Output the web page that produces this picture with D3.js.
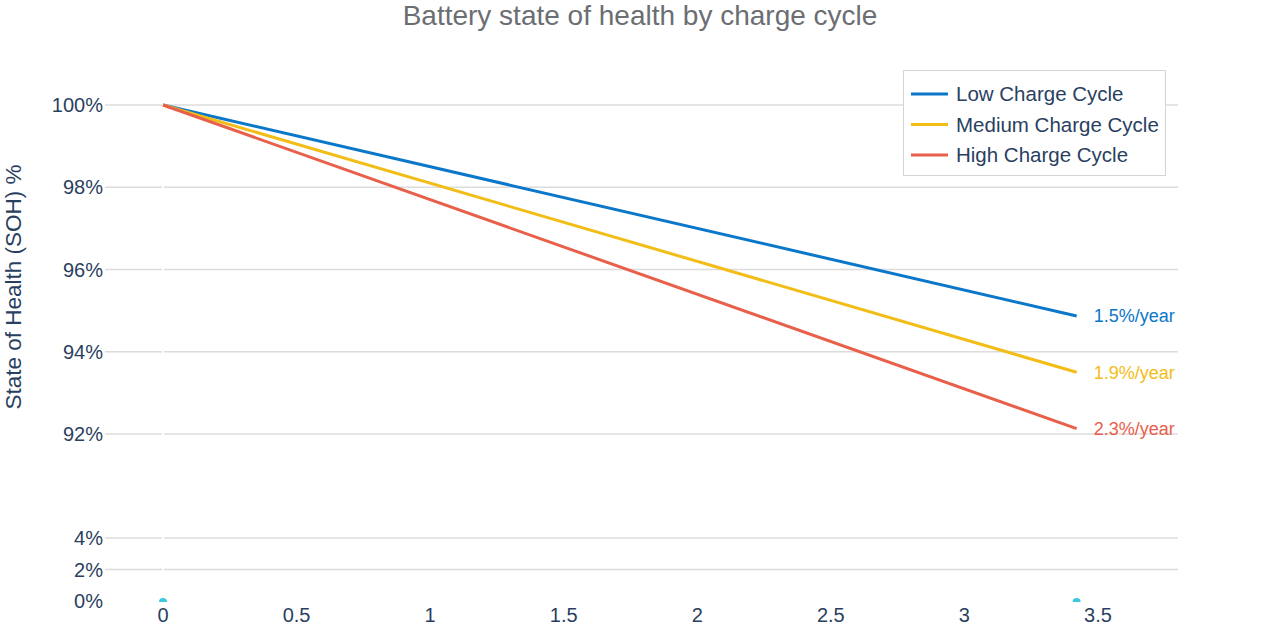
<!DOCTYPE html>
<html lang="en">
<head>
<meta charset="utf-8">
<title>Battery state of health by charge cycle</title>
<script src="https://d3js.org/d3.v7.min.js"></script>
<style>
  body { margin: 0; background: #fff; }
  text { font-family: "Liberation Sans", Arial, Helvetica, sans-serif; }
</style>
</head>
<body>
<svg width="1280" height="640"></svg>
<script>
// data
const years = [0, 3.42];
const lowSoh = [100, 94.87];
const medSoh = [100, 93.50];
const highSoh = [100, 92.13];
const baseline = [0, 0];   // the little cyan trace sitting at 0%
const seriesNames = ["Low Charge Cycle", "Medium Charge Cycle", "High Charge Cycle"];
const seriesColors = ["#0b77c9", "#f2bd16", "#e8604a"];
const rateLabels = ["1.5%/year", "1.9%/year", "2.3%/year"];
const xTicks = [0, 0.5, 1, 1.5, 2, 2.5, 3, 3.5];
const topTicks = [92, 94, 96, 98, 100];
const bottomTicks = [0, 2, 4];

const svg = d3.select("svg");
const left = 105, right = 1178;

const x = d3.scaleLinear().domain([0, 3.5]).range([163, 1098]);
const yTop = d3.scaleLinear().domain([92, 100]).range([434, 105]);
const yBot = d3.scaleLinear().domain([0, 4]).range([601, 538]);

// gridlines
const grid = svg.append("g");
grid.selectAll(".gt").data(topTicks).enter().append("line")
    .attr("x1", left).attr("x2", right)
    .attr("y1", d => yTop(d)).attr("y2", d => yTop(d))
    .style("stroke", "#dcdcdc").style("stroke-width", 1.5);
grid.selectAll(".gb").data(bottomTicks.filter(d => d > 0)).enter().append("line")
    .attr("x1", left).attr("x2", right)
    .attr("y1", d => yBot(d)).attr("y2", d => yBot(d))
    .style("stroke", "#dcdcdc").style("stroke-width", 1.5);
// white zero line across the grid
grid.append("line").attr("x1", x(0)).attr("x2", x(0))
    .attr("y1", 60).attr("y2", 601)
    .style("stroke", "#fff").style("stroke-width", 2);

// y tick labels
svg.append("g").selectAll("text").data(topTicks).enter().append("text")
    .attr("x", 103).attr("y", d => yTop(d)).attr("dy", "0.35em")
    .attr("text-anchor", "end").style("font-size", "20px").style("fill", "#2a3f5f")
    .text(d => d + "%");
svg.append("g").selectAll("text").data(bottomTicks).enter().append("text")
    .attr("x", 103).attr("y", d => yBot(d)).attr("dy", "0.35em")
    .attr("text-anchor", "end").style("font-size", "20px").style("fill", "#2a3f5f")
    .text(d => d + "%");

// x tick labels
svg.append("g").selectAll("text").data(xTicks).enter().append("text")
    .attr("x", d => x(d)).attr("y", 622)
    .attr("text-anchor", "middle").style("font-size", "20px").style("fill", "#2a3f5f")
    .text(d => d);

// cyan baseline markers, clipped at the bottom of the lower panel
svg.append("clipPath").attr("id", "clipBot").append("rect")
    .attr("x", left).attr("y", 520).attr("width", right - left).attr("height", 82);
svg.append("g").attr("clip-path", "url(#clipBot)")
  .selectAll("circle").data(years).enter().append("circle")
    .attr("cx", d => x(d)).attr("cy", (d, i) => yBot(baseline[i]) + 1)
    .attr("r", 4).style("fill", "#3cc8dc");

// lines
const allSeries = [lowSoh, medSoh, highSoh];
const line = d3.line().x((d, i) => x(years[i])).y(d => yTop(d));
svg.append("g").selectAll("path").data(allSeries).enter().append("path")
    .attr("d", d => line(d))
    .style("fill", "none")
    .style("stroke", (d, i) => seriesColors[i])
    .style("stroke-width", 3);

// rate labels at the line ends
svg.append("g").selectAll("text").data(allSeries).enter().append("text")
    .attr("x", x(years[1]) + 17).attr("y", d => yTop(d[d.length - 1]))
    .attr("dy", "0.35em")
    .style("font-size", "18px")
    .style("fill", (d, i) => seriesColors[i])
    .text((d, i) => rateLabels[i]);

// legend
const legend = svg.append("g");
legend.append("rect").attr("x", 903.5).attr("y", 70.5).attr("width", 262).attr("height", 105)
    .style("fill", "#fff").style("stroke", "#d4d4d4").style("stroke-width", 1);
seriesNames.forEach((name, i) => {
  const yy = 94 + i * 30.5;
  legend.append("line").attr("x1", 911).attr("x2", 948).attr("y1", yy).attr("y2", yy)
      .style("stroke", seriesColors[i]).style("stroke-width", 3);
  legend.append("text").attr("x", 956).attr("y", yy).attr("dy", "0.35em")
      .style("font-size", "20.5px").style("fill", "#2a3f5f").text(name);
});

// title
svg.append("text").attr("x", 640).attr("y", 25)
    .attr("text-anchor", "middle").style("font-size", "28px").style("fill", "#6b6e72")
    .text("Battery state of health by charge cycle");

// y axis title
svg.append("text")
    .attr("transform", "translate(21,287) rotate(-90)")
    .attr("text-anchor", "middle").style("font-size", "22.5px").style("fill", "#2a3f5f")
    .text("State of Health (SOH) %");
</script>
</body>
</html>
